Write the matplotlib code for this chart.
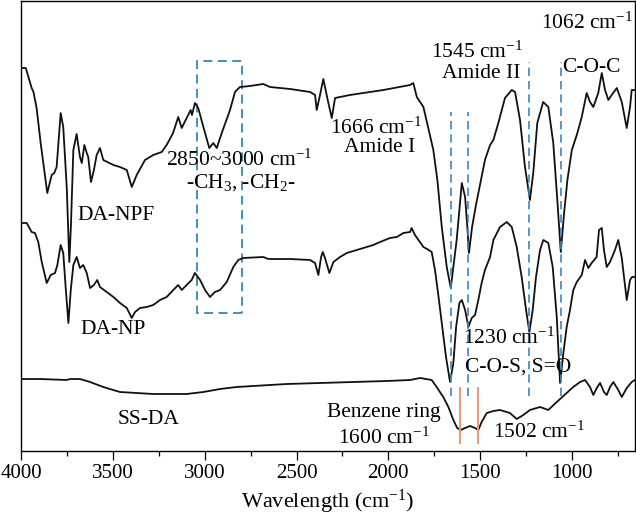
import matplotlib
matplotlib.use("Agg")
import matplotlib.pyplot as plt
from matplotlib.patches import Rectangle
from matplotlib.ticker import MultipleLocator

plt.rcParams['font.family'] = ['Liberation Serif', 'DejaVu Serif']
plt.rcParams['mathtext.fontset'] = 'custom'
plt.rcParams['mathtext.rm'] = 'Liberation Serif'
plt.rcParams['mathtext.it'] = 'Liberation Serif:italic'
plt.rcParams['mathtext.bf'] = 'Liberation Serif:bold'

# ---- data (wavenumber, arbitrary transmittance units) ----
npf_w = [4000, 3974, 3942, 3932, 3915, 3893, 3857, 3833, 3819, 3806, 3784, 3770, 3751, 3737, 3728,
         3715, 3697, 3679, 3669, 3655, 3642, 3634, 3619, 3603, 3588, 3570, 3552, 3530, 3497, 3461,
         3424, 3397, 3370, 3325, 3280, 3234, 3207, 3172, 3144, 3125, 3098, 3076, 3069, 3053, 3035,
         3007, 2975, 2953, 2934, 2907, 2862, 2835, 2808, 2753, 2681, 2644, 2535, 2426, 2399, 2390,
         2372, 2354, 2330, 2308, 2290, 2209, 2027, 1882, 1864, 1845, 1809, 1755, 1733, 1709, 1682,
         1660, 1628, 1600, 1582, 1570, 1561, 1544, 1523, 1501, 1474, 1446, 1428, 1401, 1365, 1328,
         1310, 1283, 1256, 1229, 1211, 1189, 1157, 1129, 1102, 1080, 1061, 1043, 1025, 1001, 974,
         947, 920, 902, 884, 857, 838, 820, 802, 784, 756, 729, 702, 684, 675, 657]
npf_t = [383, 383, 363, 359, 343, 308, 258, 276, 278, 284, 338, 324, 264, 189, 226,
         301, 317, 294, 288, 306, 298, 294, 269, 281, 296, 303, 291, 289, 286, 284,
         281, 264, 276, 291, 296, 299, 306, 318, 334, 323, 333, 341, 336, 348, 343,
         324, 303, 308, 303, 318, 341, 359, 364, 365, 367, 364, 362, 359, 356, 341,
         356, 372, 351, 333, 353, 356, 361, 366, 368, 354, 344, 301, 271, 224, 184,
         163, 211, 268, 254, 224, 198, 224, 246, 266, 291, 306, 311, 328, 353, 361,
         359, 331, 284, 251, 278, 328, 349, 344, 308, 251, 199, 238, 271, 301, 316,
         334, 358, 349, 344, 358, 378, 361, 351, 356, 363, 349, 323, 344, 361, 361]

np_w = [4000, 3969, 3942, 3924, 3906, 3887, 3860, 3838, 3815, 3802, 3784, 3770, 3757, 3742, 3729,
        3715, 3697, 3679, 3661, 3642, 3624, 3603, 3585, 3570, 3533, 3497, 3461, 3424, 3397, 3379,
        3352, 3316, 3280, 3243, 3207, 3171, 3144, 3125, 3098, 3071, 3053, 3025, 2998, 2971, 2944,
        2916, 2880, 2844, 2817, 2790, 2681, 2653, 2535, 2426, 2399, 2381, 2366, 2357, 2345, 2321,
        2299, 2263, 2226, 2172, 2136, 2082, 2045, 1991, 1954, 1918, 1882, 1873, 1855, 1809, 1780,
        1764, 1746, 1728, 1709, 1686, 1664, 1646, 1631, 1613, 1600, 1582, 1564, 1546, 1528, 1510,
        1492, 1474, 1446, 1428, 1392, 1355, 1328, 1301, 1274, 1250, 1232, 1214, 1196, 1174, 1156,
        1129, 1105, 1083, 1065, 1047, 1029, 1011, 993, 974, 947, 929, 911, 893, 866, 853,
        838, 826, 811, 793, 766, 748, 729, 702, 684, 673, 657]
np_t = [228, 228, 219, 218, 209, 189, 168, 176, 178, 186, 206, 198, 164, 128, 161,
        186, 194, 183, 186, 178, 163, 166, 171, 164, 159, 154, 148, 143, 133, 139,
        143, 144, 146, 151, 154, 161, 166, 161, 166, 171, 178, 171, 161, 154, 159,
        161, 169, 184, 191, 193, 194, 192, 192, 191, 188, 176, 194, 199, 193, 178,
        189, 194, 198, 201, 203, 206, 209, 213, 214, 218, 219, 223, 216, 204, 201,
        199, 181, 156, 128, 94, 69, 88, 124, 148, 151, 141, 124, 133, 136, 151,
        168, 181, 194, 211, 224, 229, 224, 204, 174, 141, 119, 141, 174, 201, 211,
        208, 184, 134, 68, 98, 124, 141, 161, 169, 176, 191, 183, 188, 194, 221,
        223, 201, 184, 189, 201, 211, 193, 151, 171, 174, 174]

ss_w = [4000, 3897, 3751, 3733, 3679, 3624, 3552, 3461, 3370, 3280, 3189, 3098, 3007, 2916, 2826,
        2735, 2553, 2372, 2191, 2009, 1882, 1827, 1764, 1737, 1701, 1673, 1646, 1625, 1606, 1582,
        1555, 1528, 1510, 1492, 1464, 1428, 1392, 1338, 1301, 1265, 1229, 1174, 1129, 1083, 1029,
        993, 956, 929, 902, 884, 862, 847, 826, 811, 793, 775, 748, 729, 702, 675, 657]
ss_t = [72, 72, 71, 72, 72, 69, 64, 59, 58, 57, 57, 57, 59, 62, 64,
        65, 67, 68, 69, 70, 71, 73, 71, 64, 54, 44, 31, 23, 21, 23,
        25, 23, 21, 29, 38, 40, 41, 38, 32, 36, 41, 44, 41, 49, 58,
        64, 69, 71, 64, 56, 64, 68, 59, 56, 64, 69, 61, 54, 63, 69, 71]

blue_peaks = [1660, 1564, 1232, 1061]
orange_peaks = [1608, 1510]
curve_names = ["DA-NPF", "DA-NP", "SS-DA"]
xticks = [4000, 3500, 3000, 2500, 2000, 1500, 1000]

fig = plt.figure(figsize=(6.36, 5.19), dpi=100)
ax = fig.add_axes([21/636, 68/519, 614/636, 450/519])

for w, t in [(npf_w, npf_t), (np_w, np_t), (ss_w, ss_t)]:
    ax.plot(w, t, color='#111111', lw=1.3)

ax.set_xlim(4000, 657)
ax.set_ylim(0, 450)
ax.set_yticks([])
ax.set_xticks(xticks)
ax.xaxis.set_minor_locator(MultipleLocator(250))
ax.tick_params(axis='x', which='major', direction='out', length=6.5, width=0.9, labelsize=15, pad=3)
ax.tick_params(axis='x', which='minor', direction='out', length=3.5, width=0.9)
for s in ax.spines.values():
    s.set_linewidth(1.0)
ax.set_xlabel(r"Wavelength (cm$^{-1}$)", fontsize=16, labelpad=3)

blue = '#3a86c4'
rect_c = '#2f8ab8'
orange = '#ec9a6c'

ax.add_patch(Rectangle((2798, 138), 3043 - 2798, 390 - 138, fill=False,
                       edgecolor=rect_c, lw=1.3, linestyle=(0, (5, 3))))
for p, top in zip(blue_peaks, [339, 339, 389, 389]):
    ax.plot([p, p], [55, top], color=blue, lw=1.2, linestyle=(0, (5, 3)))
for p in orange_peaks:
    ax.plot([p, p], [8, 63], color=orange, lw=1.4)

fs = 15.5
ax.text(3483, 236, curve_names[0], fontsize=fs, ha='center', va='center')
ax.text(3496, 121, curve_names[1], fontsize=fs, ha='center', va='center')
ax.text(3303, 31, curve_names[2], fontsize=fs, ha='center', va='center')
ax.text(2813, 291, r"2850~3000 cm$^{-1}$", fontsize=fs, ha='center', va='center')
ax.text(2802, 268, r"-CH$_3$, -CH$_2$-", fontsize=fs, ha='center', va='center')
ax.text(2067, 323, r"1666 cm$^{-1}$", fontsize=fs, ha='center', va='center')
ax.text(2045, 304, "Amide I", fontsize=fs, ha='center', va='center')
ax.text(1517, 399, r"1545 cm$^{-1}$", fontsize=fs, ha='center', va='center')
ax.text(1495, 378, "Amide II", fontsize=fs, ha='center', va='center')
ax.text(918, 428, r"1062 cm$^{-1}$", fontsize=fs, ha='center', va='center')
ax.text(896, 384, "C-O-C", fontsize=fs, ha='center', va='center')
ax.text(1343, 113, r"1230 cm$^{-1}$", fontsize=fs, ha='center', va='center')
ax.text(1294, 84, "C-O-S, S=O", fontsize=fs, ha='center', va='center')
ax.text(2023, 38, "Benzene ring", fontsize=fs, ha='center', va='center')
ax.text(2023, 13, r"1600 cm$^{-1}$", fontsize=fs, ha='center', va='center')
ax.text(1179, 19, r"1502 cm$^{-1}$", fontsize=fs, ha='center', va='center')

fig.savefig("out.png", dpi=100)
